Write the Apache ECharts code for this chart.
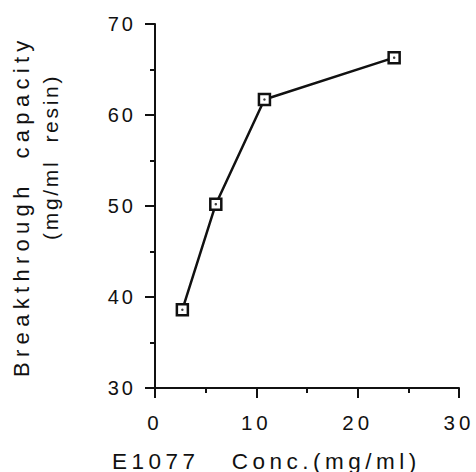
<!DOCTYPE html>
<html>
<head>
<meta charset="utf-8">
<script src="https://cdn.jsdelivr.net/npm/echarts@6/dist/echarts.min.js"></script>
<style>
  html, body { margin: 0; padding: 0; background: #fff; }
  #chart { width: 476px; height: 472px; }
</style>
</head>
<body>
<div id="chart"></div>
<script>
// E1077 concentration (mg/ml) and breakthrough capacity (mg/ml resin)
const concentration = [2.7, 6.0, 10.8, 23.6];
const capacity = [38.6, 50.2, 61.7, 66.3];

// Axis ranges
const xRange = [0, 30, 10];
const yRange = [30, 70, 10];

// Titles
const yTitleLine1 = 'Breakthrough  capacity';
const yTitleLine2 = '(mg/ml  resin)';
const xTitle = 'E1077   Conc.(mg/ml)';

const points = concentration.map((c, i) => [c, capacity[i]]);

const INK = '#111';
const FONT = '"Liberation Sans", Arial, Helvetica, sans-serif';

// letter spacing (px) per font size, applied to the SVG text after rendering
const SPACING = { '20px': 3, '20.5px': 4, '22px': 5.3, '21px': 2.7, '22.5px': 4.5 };

const chart = echarts.init(document.getElementById('chart'), null, { renderer: 'svg' });

chart.setOption({
  backgroundColor: '#fff',
  animation: false,
  grid: { left: 155, right: 17, top: 24, bottom: 84, containLabel: false },
  xAxis: {
    type: 'value',
    min: xRange[0], max: xRange[1], interval: xRange[2],
    axisLine: { show: true, onZero: false, lineStyle: { color: INK, width: 2 } },
    axisTick: { show: true, inside: false, length: 10, lineStyle: { color: INK, width: 2 } },
    minorTick: { show: true, splitNumber: 2, length: 5, lineStyle: { color: INK, width: 2 } },
    splitLine: { show: false },
    axisLabel: { color: INK, fontSize: 20.5, fontFamily: FONT, margin: 24 }
  },
  yAxis: {
    type: 'value',
    min: yRange[0], max: yRange[1], interval: yRange[2],
    axisLine: { show: true, onZero: false, lineStyle: { color: INK, width: 2 } },
    axisTick: { show: true, inside: false, length: 10, lineStyle: { color: INK, width: 2 } },
    minorTick: { show: true, splitNumber: 2, length: 5, lineStyle: { color: INK, width: 2 } },
    splitLine: { show: false },
    axisLabel: { color: INK, fontSize: 20, fontFamily: FONT, margin: 19 }
  },
  graphic: [
    {
      type: 'text', x: 21, y: 377, rotation: Math.PI / 2,
      style: {
        text: yTitleLine1, fontSize: 22, fontFamily: FONT, fill: INK,
        align: 'left', verticalAlign: 'middle', textAlign: 'left', textVerticalAlign: 'middle'
      }
    },
    {
      type: 'text', x: 50, y: 240, rotation: Math.PI / 2,
      style: {
        text: yTitleLine2, fontSize: 21, fontFamily: FONT, fill: INK,
        align: 'left', verticalAlign: 'middle', textAlign: 'left', textVerticalAlign: 'middle'
      }
    },
    {
      type: 'text', x: 112, y: 461,
      style: {
        text: xTitle, fontSize: 22.5, fontFamily: FONT, fill: INK,
        align: 'left', verticalAlign: 'middle', textAlign: 'left', textVerticalAlign: 'middle'
      }
    }
  ],
  series: [
    {
      type: 'line',
      data: points,
      symbol: 'rect',
      symbolSize: 11,
      lineStyle: { color: INK, width: 2.5 },
      itemStyle: { color: '#fff', borderColor: INK, borderWidth: 2.5 },
      z: 2
    },
    {
      type: 'scatter',
      data: points,
      symbol: 'circle',
      symbolSize: 2.5,
      itemStyle: { color: INK },
      z: 3
    }
  ]
});

function spaceLetters() {
  document.querySelectorAll('#chart svg text').forEach(el => {
    const fs = getComputedStyle(el).fontSize;
    if (SPACING[fs] !== undefined) el.setAttribute('letter-spacing', SPACING[fs]);
  });
}
chart.on('finished', spaceLetters);
spaceLetters();
</script>
</body>
</html>
